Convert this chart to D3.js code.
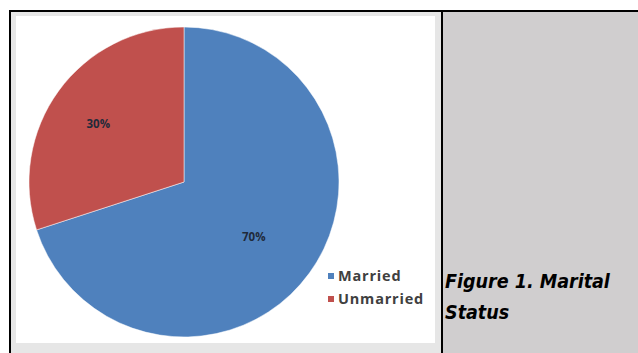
<!DOCTYPE html>
<html>
<head>
<meta charset="utf-8">
<script src="https://cdn.jsdelivr.net/npm/d3@7"></script>
<style>
  body { margin: 0; background: #fff; }
  svg { display: block; }
</style>
</head>
<body>
<div id="chart"></div>
<script>
// data
var categories = ["Married", "Unmarried"];
var values = [70, 30];
var labels = ["70%", "30%"];
var colors = ["#4f81bd", "#c0504d"];
var caption = ["Figure 1. Marital", "Status"];

var W = 638, H = 353;

var svg = d3.select("#chart").append("svg")
    .attr("width", W)
    .attr("height", H);

// table cells
svg.append("rect")
    .attr("x", 11).attr("y", 12)
    .attr("width", 430).attr("height", H - 12)
    .attr("fill", "#e6e6e6");
svg.append("rect")
    .attr("x", 16).attr("y", 16)
    .attr("width", 419).attr("height", 327)
    .attr("fill", "#ffffff");
svg.append("rect")
    .attr("x", 443).attr("y", 12)
    .attr("width", W - 443).attr("height", H - 12)
    .attr("fill", "#d0cecf");

// borders
svg.append("rect").attr("x", 9).attr("y", 10).attr("width", W - 9).attr("height", 2).attr("fill", "#000");
svg.append("rect").attr("x", 9).attr("y", 10).attr("width", 2).attr("height", H - 10).attr("fill", "#000");
svg.append("rect").attr("x", 441).attr("y", 10).attr("width", 2).attr("height", H - 10).attr("fill", "#000");

// pie
var cx = 184, cy = 182, R = 155;
var data = categories.map(function(c, i) {
  return {name: c, value: values[i], label: labels[i], color: colors[i]};
});

var pie = d3.pie().sort(null).value(function(d) { return d.value; });
var arc = d3.arc().innerRadius(0).outerRadius(R);
var labelArc = d3.arc().innerRadius(R * 0.62).outerRadius(R * 0.62);

var g = svg.append("g")
    .attr("transform", "translate(" + cx + "," + cy + ")");

g.selectAll(".slice")
    .data(pie(data))
  .enter().append("path")
    .attr("class", "slice")
    .attr("d", arc)
    .attr("fill", function(d) { return d.data.color; })
    .attr("stroke", "#ffffff")
    .attr("stroke-width", 0.5);

g.selectAll(".lbl")
    .data(pie(data))
  .enter().append("text")
    .attr("class", "lbl")
    .attr("transform", function(d) {
      var c = labelArc.centroid(d);
      return "translate(" + (c[0] - 8) + "," + (c[1] - 2) + ")";
    })
    .attr("text-anchor", "middle")
    .attr("dy", "0.35em")
    .attr("font-family", "'Open Sans', sans-serif")
    .attr("font-weight", "bold")
    .attr("font-size", 11.5)
    .attr("fill", "#1f2a3a")
    .text(function(d) { return d.data.label; });

// legend
var legend = svg.append("g").attr("transform", "translate(328,273)");
var item = legend.selectAll(".item")
    .data(data)
  .enter().append("g")
    .attr("class", "item")
    .attr("transform", function(d, i) { return "translate(0," + (i * 23) + ")"; });
item.append("rect")
    .attr("width", 6).attr("height", 6)
    .attr("fill", function(d) { return d.color; });
item.append("text")
    .attr("x", 10).attr("y", 8)
    .attr("font-family", "'Open Sans', sans-serif")
    .attr("font-weight", "bold")
    .attr("font-size", 14.5)
    .attr("letter-spacing", 0.8)
    .attr("fill", "#404040")
    .text(function(d) { return d.name; });

// caption
svg.append("g").selectAll("text")
    .data(caption)
  .enter().append("text")
    .attr("x", 445)
    .attr("y", function(d, i) { return 288 + i * 31; })
    .attr("font-family", "'DejaVu Sans Condensed', 'DejaVu Sans', sans-serif")
    .attr("font-weight", "bold")
    .attr("font-style", "italic")
    .attr("font-size", 19.5)
    .attr("fill", "#000")
    .text(function(d) { return d; });
</script>
</body>
</html>
